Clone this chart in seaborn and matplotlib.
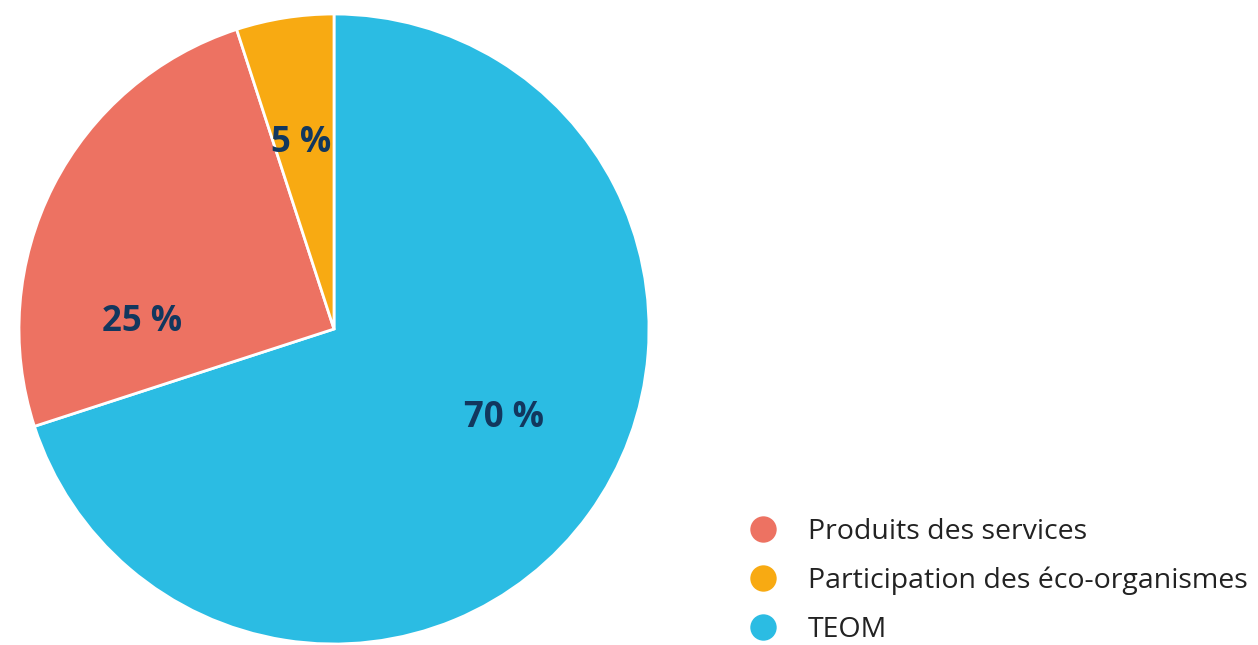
import numpy as np
import matplotlib
matplotlib.use("Agg")
import matplotlib.pyplot as plt
from matplotlib.lines import Line2D
import seaborn as sns

# data, in drawing order (clockwise from 12 o'clock)
categories = ["TEOM", "Produits des services", "Participation des éco-organismes"]
values = [70, 25, 5]
colors = ["#2BBCE3", "#ED7262", "#F8AA12"]
legend_order = ["Produits des services", "Participation des éco-organismes", "TEOM"]

sns.set_theme(style="white")
plt.rcParams['font.family'] = ['Open Sans', 'DejaVu Sans']

fig = plt.figure(figsize=(12.58, 6.45), dpi=100)
ax = fig.add_axes([19 / 1258, 1 / 645, 630 / 1258, 630 / 645])

wedges, _ = ax.pie(values, colors=colors, startangle=90, counterclock=False,
                   wedgeprops=dict(edgecolor="white", linewidth=2))
ax.set_xlim(-1, 1)
ax.set_ylim(-1, 1)
ax.set_aspect("equal")
ax.axis("off")

# label placement: (angle in degrees, distance as fraction of radius)
label_pos = {"TEOM": (-27.5, 0.61), "Produits des services": (178, 0.61),
             "Participation des éco-organismes": (100, 0.60)}
for cat, v in zip(categories, values):
    ang, r = label_pos[cat]
    ax.text(r * np.cos(np.radians(ang)), r * np.sin(np.radians(ang)), f"{v} %",
            ha="center", va="center", fontsize=25, fontweight="bold",
            fontstretch="condensed", color="#12375E")

handles = [Line2D([], [], marker="o", linestyle="none", markersize=19,
                  markerfacecolor=colors[categories.index(c)], markeredgewidth=0)
           for c in legend_order]
fig.legend(handles, legend_order, loc="lower left", bbox_to_anchor=(735 / 1258, -0.016),
           frameon=False, fontsize=20.5, labelcolor="#222222", handletextpad=0.95,
           labelspacing=0.72, borderaxespad=0.0, handlelength=1.2)

fig.savefig("out.png", dpi=100)
